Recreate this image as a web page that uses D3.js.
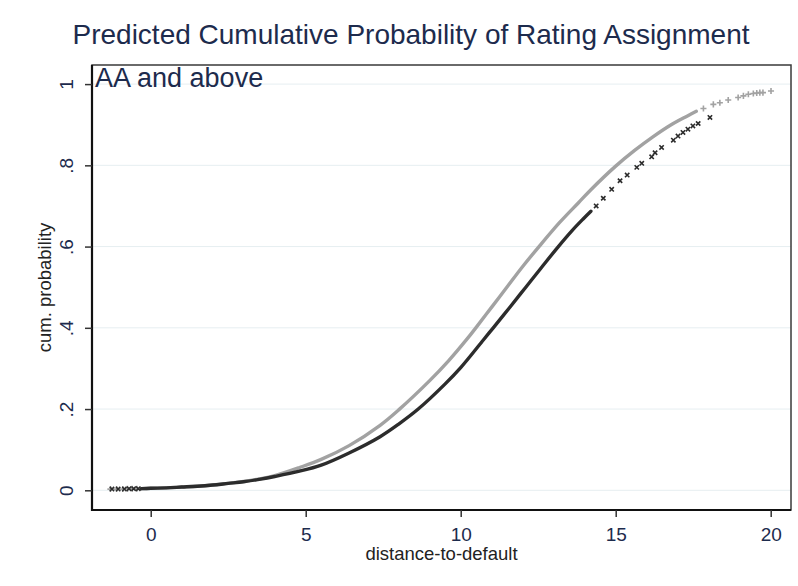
<!DOCTYPE html>
<html>
<head>
<meta charset="utf-8">
<script src="https://cdn.jsdelivr.net/npm/d3@7"></script>
<style>
  html, body { margin: 0; padding: 0; background: #fff; }
  svg { display: block; font-family: "Liberation Sans", Arial, sans-serif; }
</style>
</head>
<body>
<svg id="chart" width="798" height="586"></svg>
<script>
// Axis ticks
const xTicks = [0, 5, 10, 15, 20];
const yTicks = [0, 0.2, 0.4, 0.6, 0.8, 1];
const yTickLabels = ["0", ".2", ".4", ".6", ".8", "1"];

// Series 1 (grey): dense run of predictions
const greyDD = [-0.3, 0, 0.5, 1, 1.5, 2, 2.5, 3, 3.5, 4, 4.8, 5.5, 6.4, 7.4, 8.0, 9.0, 9.6, 10.2, 10.5, 11.0, 11.5, 12.0, 12.56, 13.2, 13.8, 14.2, 15.0, 15.6, 16.2, 16.75, 17.3, 17.6];
const greyP  = [0.004, 0.005, 0.006, 0.008, 0.010, 0.013, 0.017, 0.022, 0.028, 0.036, 0.056, 0.076, 0.110, 0.160, 0.198, 0.270, 0.318, 0.372, 0.401, 0.451, 0.501, 0.551, 0.603, 0.660, 0.708, 0.740, 0.798, 0.836, 0.870, 0.898, 0.921, 0.933];
// Series 1 (grey): sparse observations at both ends
const greyTailDD = [-1.3, -1.1, -0.9, -0.75, -0.6, -0.45, 17.83, 18.15, 18.36, 18.63, 18.95, 19.12, 19.28, 19.44, 19.55, 19.65, 19.75, 20.01];
const greyTailP  = [0.003, 0.003, 0.003, 0.004, 0.004, 0.004, 0.940, 0.950, 0.954, 0.961, 0.967, 0.971, 0.975, 0.977, 0.978, 0.979, 0.979, 0.983];

// Series 2 (black): dense run of predictions
const blackDD = [-0.3, 0, 0.5, 1, 1.5, 2, 2.5, 3, 3.5, 4.0, 4.8, 5.5, 6.4, 7.4, 8.0, 8.63, 9.5, 10.0, 10.73, 11.05, 11.6, 12.1, 12.6, 13.15, 13.6, 13.95, 14.2];
const blackP  = [0.004, 0.005, 0.006, 0.008, 0.010, 0.013, 0.017, 0.021, 0.027, 0.034, 0.047, 0.062, 0.092, 0.132, 0.163, 0.200, 0.262, 0.302, 0.370, 0.400, 0.452, 0.500, 0.548, 0.600, 0.640, 0.668, 0.687];
// Series 2 (black): sparse observations at both ends
const blackTailDD = [-1.25, -1.05, -0.85, -0.7, -0.55, -0.4, 14.37, 14.60, 14.87, 15.14, 15.37, 15.68, 15.84, 16.16, 16.27, 16.48, 16.86, 17.01, 17.17, 17.33, 17.49, 17.66, 18.04];
const blackTailP  = [0.003, 0.003, 0.003, 0.004, 0.004, 0.004, 0.700, 0.719, 0.741, 0.762, 0.776, 0.795, 0.805, 0.821, 0.831, 0.844, 0.862, 0.872, 0.881, 0.889, 0.897, 0.903, 0.918];

const svg = d3.select("#chart");
const plot = { left: 92, right: 791, top: 65, bottom: 510 };

const x = d3.scaleLinear().domain([-1.894, 20.655]).range([plot.left, plot.right]);
const y = d3.scaleLinear().domain([-0.0485, 1.047]).range([plot.bottom, plot.top]);

const navy = "#1d2b4d";

// Title
svg.append("text")
  .attr("x", 411).attr("y", 44)
  .attr("text-anchor", "middle")
  .attr("font-size", 28)
  .attr("fill", navy)
  .text("Predicted Cumulative Probability of Rating Assignment");

// Horizontal gridlines
svg.append("g").selectAll("line").data(yTicks).join("line")
  .attr("x1", plot.left).attr("x2", plot.right)
  .attr("y1", d => y(d)).attr("y2", d => y(d))
  .attr("stroke", "#e6eef1").attr("stroke-width", 1);

// Plot region outline
svg.append("rect")
  .attr("x", plot.left).attr("y", plot.top)
  .attr("width", plot.right - plot.left).attr("height", plot.bottom - plot.top)
  .attr("fill", "none").attr("stroke", "#3a3a3a").attr("stroke-width", 1.5);

// Y axis
const yAxis = svg.append("g")
  .attr("transform", `translate(${plot.left},0)`)
  .call(d3.axisLeft(y).tickValues(yTicks).tickSize(7).tickFormat((d, i) => yTickLabels[i]));
yAxis.select(".domain").attr("stroke", "#111").attr("stroke-width", 2.2)
  .attr("d", `M0,${plot.top}V${plot.bottom + 1}`);
yAxis.selectAll(".tick line").attr("stroke", "#333").attr("stroke-width", 1.5);
yAxis.selectAll(".tick text")
  .attr("font-size", 19).attr("fill", navy)
  .attr("text-anchor", "middle")
  .attr("x", null).attr("dy", null)
  .attr("transform", "translate(-19,0) rotate(-90)");

// X axis
const xAxis = svg.append("g")
  .attr("transform", `translate(0,${plot.bottom})`)
  .call(d3.axisBottom(x).tickValues(xTicks).tickSize(7).tickFormat(d3.format("d")));
xAxis.select(".domain").attr("stroke", "#111").attr("stroke-width", 2.2)
  .attr("d", `M${plot.left - 1},0H${plot.right}`);
xAxis.selectAll(".tick line").attr("stroke", "#333").attr("stroke-width", 1.5);
xAxis.selectAll(".tick text")
  .attr("font-size", 19).attr("fill", navy)
  .attr("y", 31).attr("dy", null);
svg.selectAll(".tick text").attr("font-family", "Liberation Sans, Arial, sans-serif");

// Axis titles
svg.append("text")
  .attr("x", (plot.left + plot.right) / 2).attr("y", 560)
  .attr("text-anchor", "middle").attr("font-size", 18.5).attr("fill", "#222")
  .text("distance-to-default");
svg.append("text")
  .attr("transform", `translate(51,${(plot.top + plot.bottom) / 2}) rotate(-90)`)
  .attr("text-anchor", "middle").attr("font-size", 18.5).attr("fill", "#222")
  .text("cum. probability");

// Series drawing
const line = d3.line().x(d => x(d[0])).y(d => y(d[1])).curve(d3.curveCatmullRom.alpha(0.5));
const greyRun = d3.zip(greyDD, greyP);
const blackRun = d3.zip(blackDD, blackP);
const greyTail = d3.zip(greyTailDD, greyTailP);
const blackTail = d3.zip(blackTailDD, blackTailP);

const greyCol = "#a2a2a2", blackCol = "#2c2c2c";
const timesType = d3.symbolTimes || d3.symbolCross;
const plusType = d3.symbolPlus || d3.symbolCross;

svg.append("path").datum(greyRun)
  .attr("d", line).attr("fill", "none")
  .attr("stroke", greyCol).attr("stroke-width", 3.4).attr("stroke-linecap", "round");
svg.append("g").selectAll("path").data(greyTail).join("path")
  .attr("transform", d => `translate(${x(d[0])},${y(d[1])})`)
  .attr("d", d3.symbol().type(plusType).size(14))
  .attr("fill", "none").attr("stroke", greyCol).attr("stroke-width", 1.6);

svg.append("path").datum(blackRun)
  .attr("d", line).attr("fill", "none")
  .attr("stroke", blackCol).attr("stroke-width", 3.4).attr("stroke-linecap", "round");
svg.append("g").selectAll("path").data(blackTail).join("path")
  .attr("transform", d => `translate(${x(d[0])},${y(d[1])})`)
  .attr("d", d3.symbol().type(timesType).size(14))
  .attr("fill", "none").attr("stroke", blackCol).attr("stroke-width", 1.6);

// Panel label
svg.append("text")
  .attr("x", 95).attr("y", 87)
  .attr("font-size", 27).attr("fill", navy)
  .text("AA and above");
</script>
</body>
</html>
